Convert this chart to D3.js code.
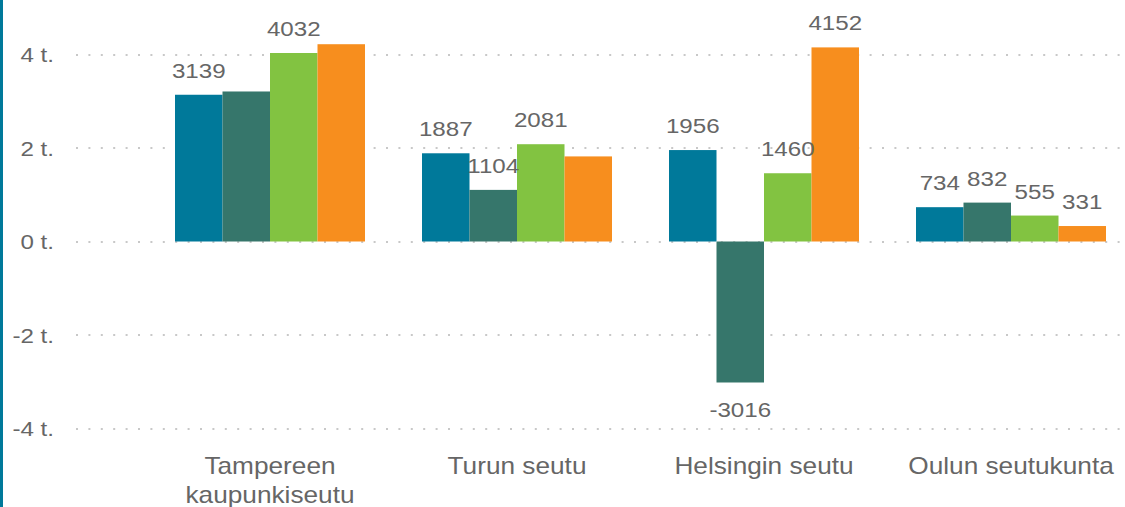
<!DOCTYPE html>
<html>
<head>
<meta charset="utf-8">
<script src="https://cdn.jsdelivr.net/npm/d3@7/dist/d3.min.js"></script>
<style>
  html, body { margin: 0; padding: 0; background: #fff; }
  svg { display: block; font-family: "Liberation Sans", Arial, sans-serif; }
</style>
</head>
<body>
<svg id="chart" width="1125" height="507"></svg>
<script>
const categories = [["Tampereen", "kaupunkiseutu"], ["Turun seutu"], ["Helsingin seutu"], ["Oulun seutukunta"]];
const seriesNames = ["s1", "s2", "s3", "s4"];
const seriesColors = ["#00799a", "#36766b", "#82c341", "#f78e1e"];
const series1 = [3139, 1887, 1956, 734];
const series2 = [3209, 1104, -3016, 832];
const series3 = [4032, 2081, 1460, 555];
const series4 = [4220, 1820, 4152, 331];
const seriesValues = [series1, series2, series3, series4];
const yTicks = [-4000, -2000, 0, 2000, 4000];
const yTickLabels = ["-4 t.", "-2 t.", "0 t.", "2 t.", "4 t."];

const svg = d3.select("#chart");
const W = 1125, H = 507;
const SX = 1.15;

svg.append("rect").attr("x", 0).attr("y", 0).attr("width", 3).attr("height", H).attr("fill", "#00799a");

const y = d3.scaleLinear().domain([-4000, 4000]).range([428.5, 54.5]);
const x0 = d3.scaleBand().domain(d3.range(categories.length)).range([146.5, 1134.5]).paddingInner(0.2308).paddingOuter(0.1154);
const x1 = d3.scaleBand().domain(d3.range(seriesNames.length)).range([0, x0.bandwidth()]);

const grid = svg.append("g");
grid.selectAll("line").data(yTicks).join("line")
  .attr("x1", 76).attr("x2", W)
  .attr("y1", d => Math.round(y(d))).attr("y2", d => Math.round(y(d)))
  .attr("stroke", "#c8c8c8").attr("stroke-width", 2)
  .attr("stroke-dasharray", "2,10.4");

const yAxis = d3.axisLeft(y).tickValues(yTicks).tickSize(0).tickPadding(0)
  .tickFormat((d, i) => yTickLabels[i]);
const ya = svg.append("g").attr("transform", "translate(54,0)").call(yAxis);
ya.select(".domain").remove();
ya.selectAll("text").attr("fill", "#666").style("font-size", "21px")
  .style("font-family", "'Liberation Sans', Arial, sans-serif")
  .attr("dy", "0.35em").attr("transform", `scale(${SX},1)`);

const barData = [];
categories.forEach((c, ci) => {
  seriesValues.forEach((vals, si) => {
    barData.push({ ci, si, v: vals[ci] });
  });
});
svg.append("g").selectAll("rect").data(barData).join("rect")
  .attr("x", d => x0(d.ci) + x1(d.si))
  .attr("width", x1.bandwidth())
  .attr("y", d => y(Math.max(0, d.v)))
  .attr("height", d => Math.abs(y(d.v) - y(0)))
  .attr("fill", d => seriesColors[d.si]);

// data labels; a label that would overlap an earlier shown label is hidden
const lg = svg.append("g");
const shown = [];
barData.forEach(d => {
  const cx = x0(d.ci) + x1(d.si) + x1.bandwidth() / 2;
  const by = d.v >= 0 ? y(d.v) - 17 : y(d.v) + 35;
  const t = lg.append("text")
    .attr("transform", `translate(${cx},${by}) scale(${SX},1)`)
    .attr("text-anchor", "middle")
    .attr("fill", "#666")
    .style("font-size", "21px")
    .text(d.v);
  const b = t.node().getBBox();
  const w = b.width * SX;
  const box = { x1: cx - w / 2, x2: cx + w / 2, y1: by + b.y, y2: by + b.y + b.height };
  const hit = shown.some(o => box.x1 < o.x2 && box.x2 > o.x1 && box.y1 < o.y2 && box.y2 > o.y1);
  if (hit) t.remove(); else shown.push(box);
});

const cg = svg.append("g");
categories.forEach((lines, ci) => {
  const cx = x0(ci) + x0.bandwidth() / 2;
  const t = cg.append("text")
    .attr("transform", `translate(${cx},474) scale(1.14,1)`)
    .attr("text-anchor", "middle")
    .attr("fill", "#666")
    .style("font-size", "23px");
  lines.forEach((l, li) => {
    t.append("tspan").attr("x", 0).attr("dy", li === 0 ? 0 : 29).text(l);
  });
});
</script>
</body>
</html>
